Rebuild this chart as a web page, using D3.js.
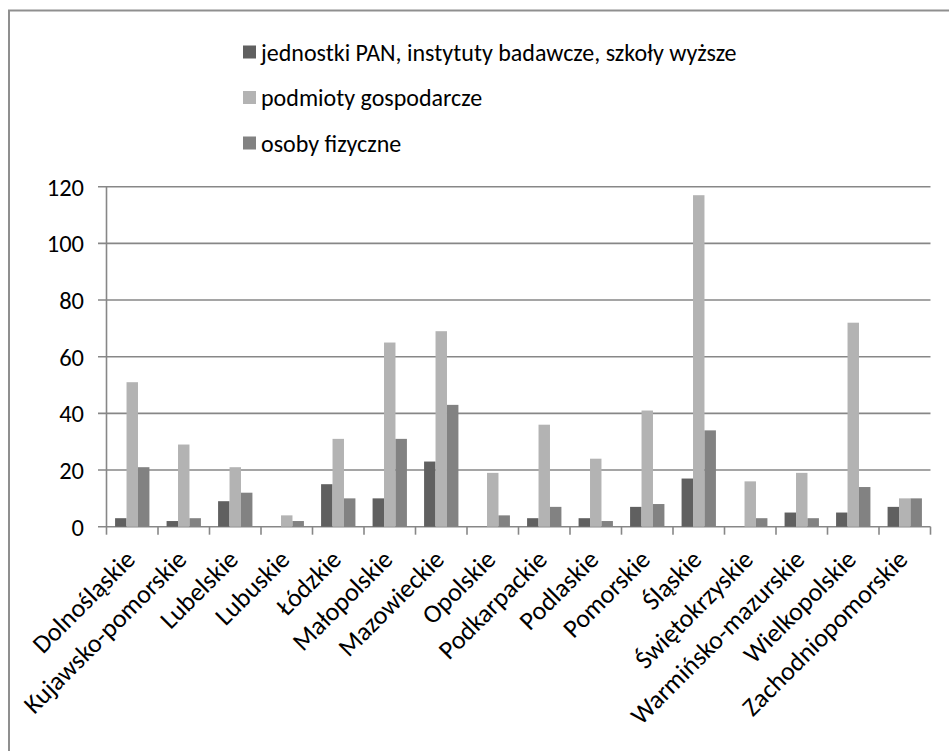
<!DOCTYPE html>
<html lang="pl">
<head>
<meta charset="utf-8">
<script src="https://cdn.jsdelivr.net/npm/d3@7"></script>
<style>
  html, body { margin: 0; padding: 0; background: #fff; }
  svg { display: block; font-family: Carlito, Calibri, Lato, sans-serif; }
</style>
</head>
<body>
<svg id="chart" width="949" height="751"></svg>
<script>
// Województwa (kategorie osi X)
const regions = [
  "Dolnośląskie", "Kujawsko-pomorskie", "Lubelskie", "Lubuskie", "Łódzkie",
  "Małopolskie", "Mazowieckie", "Opolskie", "Podkarpackie", "Podlaskie",
  "Pomorskie", "Śląskie", "Świętokrzyskie", "Warmińsko-mazurskie",
  "Wielkopolskie", "Zachodniopomorskie"
];

// Nazwy serii
const seriesNames = [
  "jednostki PAN, instytuty badawcze, szkoły wyższe",
  "podmioty gospodarcze",
  "osoby fizyczne"
];

// Wartości serii, w kolejności województw
const jednostkiPAN = [3, 2, 9, 0, 15, 10, 23, 0, 3, 3, 7, 17, 0, 5, 5, 7];
const podmiotyGospodarcze = [51, 29, 21, 4, 31, 65, 69, 19, 36, 24, 41, 117, 16, 19, 72, 10];
const osobyFizyczne = [21, 3, 12, 2, 10, 31, 43, 4, 7, 2, 8, 34, 3, 3, 14, 10];

// Podziałka osi Y
const yTicks = [0, 20, 40, 60, 80, 100, 120];

const seriesValues = [jednostkiPAN, podmiotyGospodarcze, osobyFizyczne];
const seriesColors = ["#606060", "#b3b3b3", "#828282"];

const svg = d3.select("#chart");
const gridColor = "#878787";

// Ramka obszaru wykresu (widoczna krawędź górna i lewa)
svg.append("path")
  .attr("d", "M9,760 V10.5 H960")
  .attr("fill", "none")
  .attr("stroke", "#8f8f8f")
  .attr("stroke-width", 2);

const x = d3.scaleBand().domain(regions).range([106.5, 930.5]).padding(0);
const xs = d3.scaleBand().domain(d3.range(3)).range([0, x.bandwidth()])
  .paddingInner(0).paddingOuter(0.75);
const y = d3.scaleLinear().domain([0, 120]).range([526.7, 186.7]);

// Linie siatki i etykiety osi Y
const yAxis = svg.append("g");
yAxis.selectAll("line.grid").data(yTicks).join("line")
  .attr("class", "grid")
  .attr("x1", 98).attr("x2", x.range()[1])
  .attr("y1", d => y(d)).attr("y2", d => y(d))
  .attr("stroke", gridColor).attr("stroke-width", 1.6);
yAxis.selectAll("text").data(yTicks).join("text")
  .attr("x", 84).attr("y", d => y(d)).attr("dy", "0.36em")
  .attr("text-anchor", "end")
  .attr("font-size", 24.5).attr("fill", "#000")
  .text(d => d);

// Oś pionowa
svg.append("line")
  .attr("x1", x.range()[0]).attr("x2", x.range()[0])
  .attr("y1", y(120)).attr("y2", y(0))
  .attr("stroke", gridColor).attr("stroke-width", 1.6);

// Znaczniki osi X na granicach kategorii
const boundaries = regions.map(r => x(r)).concat([x.range()[1]]);
svg.append("g").selectAll("line").data(boundaries).join("line")
  .attr("x1", d => d).attr("x2", d => d)
  .attr("y1", y(0)).attr("y2", y(0) + 8)
  .attr("stroke", gridColor).attr("stroke-width", 1.6);

// Słupki
const groups = svg.append("g").selectAll("g").data(regions).join("g")
  .attr("transform", d => `translate(${x(d)},0)`);
groups.selectAll("rect")
  .data((r, i) => seriesValues.map((vals, s) => ({ s, v: vals[i] })))
  .join("rect")
  .attr("x", d => xs(d.s))
  .attr("width", xs.bandwidth())
  .attr("y", d => y(d.v))
  .attr("height", d => y(0) - y(d.v))
  .attr("fill", d => seriesColors[d.s]);

// Etykiety kategorii, obrócone o 45°
svg.append("g").selectAll("text").data(regions).join("text")
  .attr("transform", d => `translate(${x(d) + x.bandwidth() / 2 + 4.5},561) rotate(-45)`)
  .attr("text-anchor", "end")
  .attr("font-size", 26).attr("fill", "#000")
  .text(d => d);

// Legenda
const legend = svg.append("g").selectAll("g").data(seriesNames).join("g")
  .attr("transform", (d, i) => `translate(243,${52 + i * 45.5})`);
legend.append("rect")
  .attr("x", 0).attr("y", -6.5).attr("width", 13).attr("height", 13)
  .attr("fill", (d, i) => seriesColors[i]);
legend.append("text")
  .attr("x", 18).attr("y", 0).attr("dy", "0.36em")
  .attr("font-size", 24).attr("fill", "#000")
  .text(d => d);
</script>
</body>
</html>
